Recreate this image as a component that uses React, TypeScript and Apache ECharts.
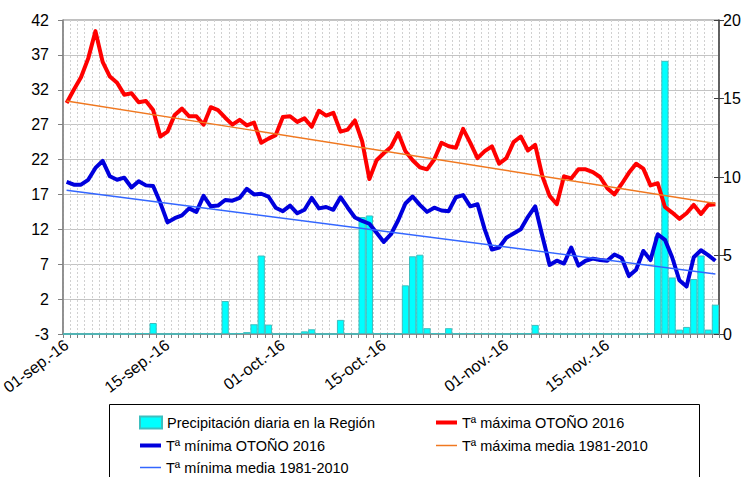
import React, { useEffect, useRef } from "react";
import * as echarts from "echarts";

const monthList: [string, number][] = [["sep", 30], ["oct", 31], ["nov", 30]];
const categories: string[] = [];
monthList.forEach(([m, n]) => {
  for (let d = 1; d <= n; d++) categories.push(`${String(d).padStart(2, "0")}-${m}.-16`);
});

const labelDates = ["01-sep.-16", "15-sep.-16", "01-oct.-16", "15-oct.-16", "01-nov.-16", "15-nov.-16"];
const leftTicks = [-3, 2, 7, 12, 17, 22, 27, 32, 37, 42];
const rightTicks = [0, 5, 10, 15, 20];

const seriesNames = [
  "Precipitación diaria en la Región",
  "Tª máxima OTOÑO 2016",
  "Tª mínima OTOÑO 2016",
  "Tª máxima media 1981-2010",
  "Tª mínima media 1981-2010",
];

const tMax = [
  30.1, 32.0, 33.8, 36.5, 40.4, 36.0, 33.9, 33.0, 31.3, 31.5,
  30.2, 30.4, 29.1, 25.3, 26.0, 28.4, 29.3, 28.2, 28.2, 27.0,
  29.5, 29.1, 28.0, 27.0, 27.7, 26.9, 27.3, 24.4, 25.0, 25.5,
  28.1, 28.2, 27.4, 27.9, 26.7, 29.0, 28.3, 28.7, 26.0, 26.3,
  27.6, 24.6, 19.2, 21.9, 22.9, 23.8, 25.8, 23.2, 21.9, 20.9,
  20.6, 22.0, 24.4, 23.9, 23.7, 26.4, 24.4, 22.2, 23.2, 23.9,
  21.4, 22.2, 24.5, 25.3, 23.3, 24.1, 19.6, 16.8, 15.6, 19.6,
  19.3, 20.6, 20.6, 20.2, 19.5, 17.9, 17.0, 18.5, 20.1, 21.4,
  20.7, 18.3, 18.6, 15.2, 14.4, 13.5, 14.3, 15.5, 14.2, 15.5,
  15.6,
];

const tMin = [
  18.8, 18.4, 18.4, 19.1, 20.8, 21.8, 19.6, 19.1, 19.4, 18.0,
  18.9, 18.3, 18.2, 15.8, 13.0, 13.6, 14.0, 15.0, 14.5, 16.8,
  15.3, 15.4, 16.2, 16.1, 16.5, 17.8, 17.0, 17.1, 16.7, 15.1,
  14.6, 15.4, 14.3, 14.8, 16.5, 15.0, 15.2, 14.8, 16.6, 15.1,
  13.7, 13.2, 12.8, 11.5, 10.2, 11.3, 13.3, 15.7, 16.7, 15.5,
  14.5, 15.1, 14.7, 14.6, 16.6, 16.9, 15.3, 15.6, 12.0, 9.1,
  9.4, 10.8, 11.4, 12.0, 13.8, 15.3, 11.0, 6.9, 7.5, 7.1,
  9.4, 6.8, 7.5, 7.8, 7.6, 7.5, 8.4, 7.9, 5.3, 6.2,
  8.9, 7.6, 11.3, 10.5, 8.0, 4.7, 3.8, 8.0, 9.0, 8.3,
  7.5,
];

const precip = [
  0, 0, 0, 0, 0, 0, 0, 0, 0, 0,
  0.05, 0.05, 0.7, 0, 0, 0, 0, 0, 0.03, 0.03,
  0, 0, 2.1, 0.03, 0.05, 0.12, 0.62, 5.0, 0.6, 0,
  0, 0, 0, 0.17, 0.3, 0, 0, 0, 0.9, 0.03,
  0, 7.45, 7.55, 0.03, 0.03, 0.03, 0, 3.1, 4.95, 5.05,
  0.37, 0.05, 0.03, 0.37, 0.03, 0.03, 0.05, 0.05, 0.03, 0.03,
  0, 0, 0.03, 0.03, 0.03, 0.58, 0.03, 0.03, 0, 0,
  0, 0, 0.03, 0, 0.03, 0, 0, 0, 0, 0,
  0, 0.05, 6.2, 17.4, 3.6, 0.28, 0.45, 3.5, 5.0, 0.28,
  1.87,
];

const tMaxMedia: [string, number][] = [["01-sep.-16", 30.4], ["30-nov.-16", 15.7]];
const tMinMedia: [string, number][] = [["01-sep.-16", 17.6], ["30-nov.-16", 5.6]];

const FONT = "Liberation Sans";

export default function App() {
  const ref = useRef<HTMLDivElement>(null);
  useEffect(() => {
    if (!ref.current) return;
    const chart = echarts.init(ref.current, undefined, { renderer: "svg" });
    const legendText = { fontSize: 14.5, color: "#000", fontFamily: FONT };
    const lineLegend = (name: string, left: number, top: number, h: number) => ({
      data: [name],
      left,
      top,
      icon: "rect",
      itemWidth: 21,
      itemHeight: h,
      padding: 0,
      textStyle: legendText,
      selectedMode: false,
    });
    chart.setOption({
      animation: false,
      backgroundColor: "#fff",
      textStyle: { fontFamily: FONT },
      grid: {
        left: 63,
        right: 23,
        top: 20,
        bottom: 143,
        show: true,
        borderColor: "#808080",
        borderWidth: 1,
        outerBoundsMode: "none",
        containLabel: false,
      },
      legend: [
        {
          data: [seriesNames[0]],
          left: 139,
          top: 415,
          icon: "rect",
          itemWidth: 22,
          itemHeight: 12,
          padding: 0,
          textStyle: legendText,
          selectedMode: false,
        },
        lineLegend(seriesNames[1], 436, 415, 4),
        lineLegend(seriesNames[2], 140, 438, 4),
        lineLegend(seriesNames[3], 436, 438, 1.5),
        lineLegend(seriesNames[4], 140, 460, 1.5),
      ],
      graphic: [
        {
          type: "rect",
          shape: { x: 109.5, y: 404.5, width: 590, height: 100 },
          style: { fill: "none", stroke: "#000", lineWidth: 1 },
          silent: true,
        },
      ],
      xAxis: {
        type: "category",
        data: categories,
        boundaryGap: true,
        axisLine: { show: true, onZero: false, lineStyle: { color: "#808080", width: 1.5 } },
        axisTick: { show: true, interval: 0, length: 4, lineStyle: { color: "#808080" } },
        axisLabel: {
          interval: (_i: number, v: string) => labelDates.includes(v),
          rotate: 37,
          fontSize: 16,
          color: "#000",
          fontFamily: FONT,
          margin: 9,
        },
        splitLine: { show: true, interval: 0, lineStyle: { color: "#d0d0d0", type: [2, 2], width: 1 } },
      },
      yAxis: [
        {
          type: "value",
          min: -3,
          max: 42,
          position: "left",
          axisLine: { show: true, onZero: false, lineStyle: { color: "#808080", width: 1.5 } },
          axisTick: { show: true, length: 5, customValues: leftTicks, lineStyle: { color: "#808080" } },
          axisLabel: { customValues: leftTicks, fontSize: 16, color: "#000", fontFamily: FONT, margin: 14 },
          splitLine: { show: false },
        },
        {
          type: "value",
          min: 0,
          max: 20,
          interval: 5,
          position: "right",
          axisLine: { show: true, onZero: false, lineStyle: { color: "#404040", width: 1.5 } },
          axisTick: { show: true, length: 5, customValues: rightTicks, lineStyle: { color: "#404040" } },
          axisLabel: { customValues: rightTicks, fontSize: 16, color: "#000", fontFamily: FONT, margin: 4 },
          splitLine: { show: false },
        },
        {
          type: "value",
          min: 0,
          max: 20,
          interval: 5,
          position: "right",
          axisLine: { show: false, onZero: false },
          axisTick: { show: true, inside: true, length: 5, lineStyle: { color: "#404040" } },
          axisLabel: { show: false },
          splitLine: { show: false },
        },
        {
          // grid helper: splits the left scale (-3..42) into 9 equal bands
          type: "value",
          min: 0,
          max: leftTicks.length - 1,
          interval: 1,
          position: "left",
          axisLine: { show: false, onZero: false },
          axisTick: { show: false },
          axisLabel: { show: false },
          splitLine: { show: true, lineStyle: { color: "#c4c4c4", width: 1 } },
        },
      ],
      series: [
        {
          name: seriesNames[0],
          type: "bar",
          yAxisIndex: 1,
          data: precip,
          barCategoryGap: "0%",
          itemStyle: { color: "#00FFFF", borderColor: "#3CBFBF", borderWidth: 1 },
        },
        {
          name: seriesNames[1],
          type: "line",
          data: tMax,
          symbol: "none",
          showSymbol: false,
          lineStyle: { color: "#FF0000", width: 4, join: "round" },
          itemStyle: { color: "#FF0000" },
        },
        {
          name: seriesNames[2],
          type: "line",
          data: tMin,
          symbol: "none",
          showSymbol: false,
          lineStyle: { color: "#0000DD", width: 4, join: "round" },
          itemStyle: { color: "#0000DD" },
        },
        {
          name: seriesNames[3],
          type: "line",
          data: tMaxMedia,
          symbol: "none",
          showSymbol: false,
          lineStyle: { color: "#F07820", width: 1.4 },
          itemStyle: { color: "#F07820" },
        },
        {
          name: seriesNames[4],
          type: "line",
          data: tMinMedia,
          symbol: "none",
          showSymbol: false,
          lineStyle: { color: "#3366FF", width: 1.4 },
          itemStyle: { color: "#3366FF" },
        },
      ],
    });
    return () => chart.dispose();
  }, []);
  return (
    <div
      ref={ref}
      style={{ position: "absolute", left: 0, top: 0, width: 742, height: 477, background: "#fff" }}
    />
  );
}
